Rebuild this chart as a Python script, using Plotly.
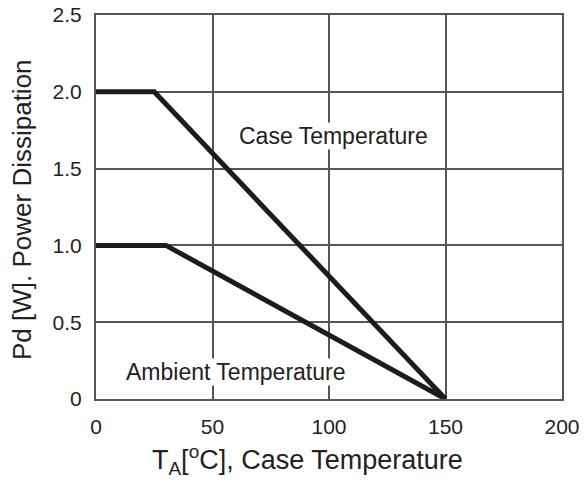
import plotly.graph_objects as go

# Data
case_x = [0, 25, 150]
case_y = [2.0, 2.0, 0]
amb_x = [0, 30, 150]
amb_y = [1.0, 1.0, 0]
x_ticks = [0, 50, 100, 150, 200]
y_ticks = [0, 0.5, 1.0, 1.5, 2.0, 2.5]
y_ticktext = ["0", "0.5", "1.0", "1.5", "2.0", "2.5"]

FONT = "Liberation Sans, Arial, sans-serif"
GRID = "#555555"
LINE = "#1c1c1c"

L, R, T, B = 96, 562, 15, 399
W, H = 586, 482

fig = go.Figure()
fig.add_trace(go.Scatter(x=case_x, y=case_y, mode="lines",
                         line=dict(color=LINE, width=5), showlegend=False))
fig.add_trace(go.Scatter(x=amb_x, y=amb_y, mode="lines",
                         line=dict(color=LINE, width=5), showlegend=False))

fig.add_annotation(x=102, y=1.71, xref="x", yref="y", text="Case Temperature",
                   showarrow=False, font=dict(family=FONT, size=23, color="#222"),
                   bgcolor="white", borderpad=0)
fig.add_annotation(x=60, y=0.176, xref="x", yref="y", text="Ambient Temperature",
                   showarrow=False, font=dict(family=FONT, size=23, color="#222"),
                   bgcolor="white", borderpad=0)
fig.add_annotation(x=(307 - L) / (R - L), y=(B - 460) / (B - T),
                   xref="paper", yref="paper", yanchor="middle",
                   text="T<sub>A</sub>[<sup>o</sup>C], Case Temperature",
                   showarrow=False, font=dict(family=FONT, size=27, color="#222"))
fig.add_annotation(x=(22 - L) / (R - L), y=(B - 210) / (B - T),
                   xref="paper", yref="paper", xanchor="center", yanchor="middle",
                   text="Pd [W]. Power Dissipation", textangle=-90,
                   showarrow=False, font=dict(family=FONT, size=26, color="#222"))

fig.update_layout(
    width=W, height=H,
    margin=dict(l=L, r=W - R, t=T, b=H - B, autoexpand=False),
    paper_bgcolor="white", plot_bgcolor="white",
    font=dict(family=FONT, color="#222"),
)

fig.update_xaxes(range=[0, 200], tickvals=x_ticks, showgrid=True, gridcolor=GRID,
                 gridwidth=2, showline=True, linecolor=GRID, linewidth=2, mirror=True,
                 zeroline=False, tickfont=dict(family=FONT, size=21, color="#222"),
                 ticks="", ticklabelstandoff=8, automargin=False)
fig.update_yaxes(range=[0, 2.5], tickvals=y_ticks, ticktext=y_ticktext, showgrid=True,
                 gridcolor=GRID, gridwidth=2, showline=True, linecolor=GRID, linewidth=2,
                 mirror=True, zeroline=False,
                 tickfont=dict(family=FONT, size=21, color="#222"),
                 ticks="", ticklabelstandoff=8, automargin=False)

fig.write_html("out.html", config={"displayModeBar": False},
               post_script="document.body.style.margin='0';document.body.style.overflow='hidden';")
